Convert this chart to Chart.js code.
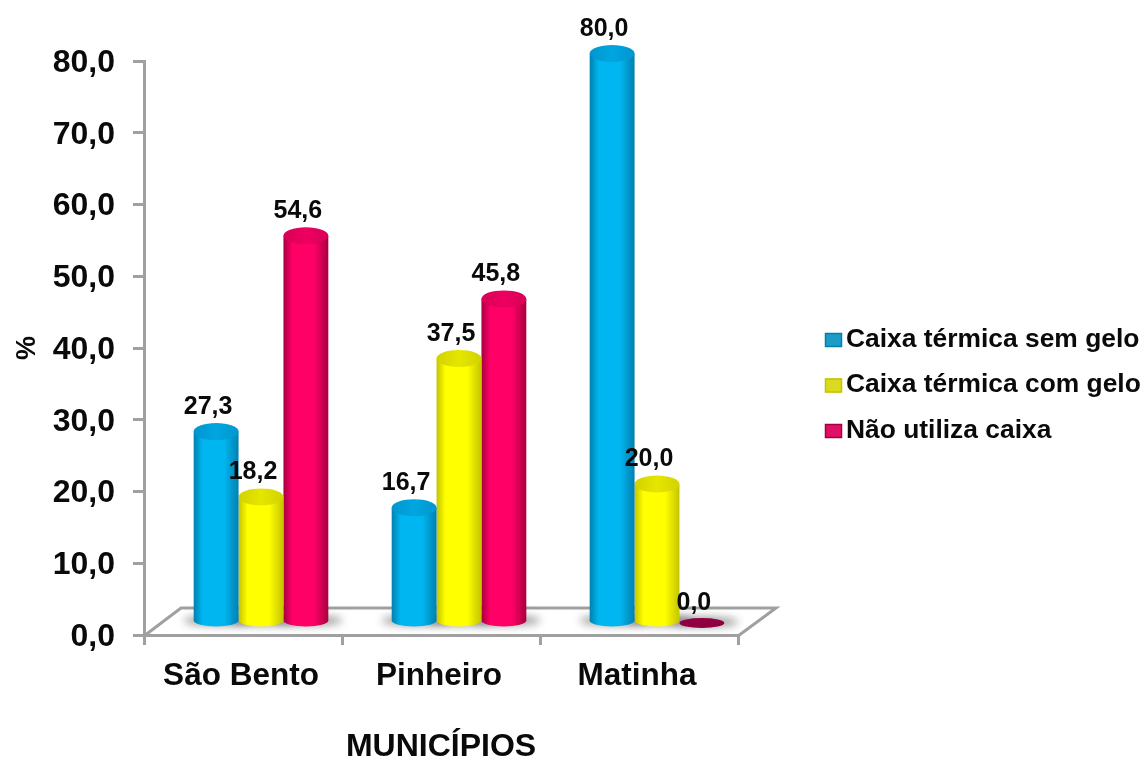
<!DOCTYPE html>
<html>
<head>
<meta charset="utf-8">
<title>Municípios</title>
<script src="https://cdn.jsdelivr.net/npm/chart.js@4"></script>
<style>
    html, body { margin: 0; padding: 0; background: #fff; }
    #caixa { position: relative; width: 1146px; height: 758px; }
    canvas { filter: blur(0.5px); }
</style>
</head>
<body>
<div id="caixa"><canvas id="chartMunicipios"></canvas></div>
<script>
const municipios = ['São Bento', 'Pinheiro', 'Matinha'];
const semGelo = [27.3, 16.7, 80.0];
const comGelo = [18.2, 37.5, 20.0];
const naoUtiliza = [54.6, 45.8, 0.0];
const nomesSeries = ['Caixa térmica sem gelo', 'Caixa térmica com gelo', 'Não utiliza caixa'];

const FONTE = '"Liberation Sans", Arial, sans-serif';
const COR_EIXO = '#a0a0a0';
const COR_TEXTO = '#0a0a0a';
const DESLOC_X = 18;   // profundidade do 3D

const cores = [
    { borda: '#0080b0', meio: '#00b6f0', topo: '#0096cf', topoClaro: '#00a6e0', legenda: '#1d9cc8' },
    { borda: '#c4c400', meio: '#ffff00', topo: '#d2d200', topoClaro: '#e6e600', legenda: '#dada20' },
    { borda: '#a8003f', meio: '#ff0066', topo: '#d80056', topoClaro: '#ee0060', legenda: '#e0106a' }
];

function virgula(v) {
    return v.toFixed(1).replace('.', ',');
}

// piso do grafico 3D e sombras das barras
const pisoPlugin = {
    id: 'piso',
    beforeDatasetsDraw(chart) {
        const { ctx, chartArea: a } = chart;
        ctx.save();
        ctx.strokeStyle = COR_EIXO;
        ctx.lineWidth = 3;
        ctx.beginPath();
        ctx.moveTo(a.left, a.bottom + 1);
        ctx.lineTo(a.left + 37, a.bottom - 27);
        ctx.lineTo(a.right + 38, a.bottom - 27);
        ctx.lineTo(a.right, a.bottom + 1);
        ctx.stroke();
        ctx.filter = 'blur(4px)';
        ctx.fillStyle = 'rgba(80,80,80,0.6)';
        chart.data.datasets.forEach((ds, i) => {
            chart.getDatasetMeta(i).data.forEach(el => {
                ctx.beginPath();
                ctx.ellipse(el.x + DESLOC_X + 2, el.base - 13, el.width / 2 + 12, 5, 0, 0, Math.PI * 2);
                ctx.fill();
            });
        });
        ctx.restore();
    }
};

// desenha cada barra como cilindro, a partir dos elementos do Chart.js
const cilindroPlugin = {
    id: 'cilindro',
    beforeDatasetDraw(chart, args) {
        const { ctx } = chart;
        const cor = cores[args.index];
        args.meta.data.forEach(el => {
            const cx = el.x + DESLOC_X;
            const rx = el.width / 2;
            const fundo = el.base - 13;
            ctx.save();
            if (Math.abs(el.base - el.y) < 1) {
                ctx.fillStyle = '#8e0040';
                ctx.beginPath();
                ctx.ellipse(cx, fundo + 1, rx, 5, 0, 0, Math.PI * 2);
                ctx.fill();
                ctx.restore();
                return;
            }
            const topo = el.y - 7.5;
            const g = ctx.createLinearGradient(cx - rx, 0, cx + rx, 0);
            g.addColorStop(0, cor.borda);
            g.addColorStop(0.2, cor.meio);
            g.addColorStop(0.68, cor.meio);
            g.addColorStop(1, cor.borda);
            ctx.fillStyle = g;
            ctx.beginPath();
            ctx.moveTo(cx - rx, topo);
            ctx.lineTo(cx - rx, fundo);
            ctx.ellipse(cx, fundo, rx, 6, 0, Math.PI, 0, true);
            ctx.lineTo(cx + rx, topo);
            ctx.closePath();
            ctx.fill();
            const gt = ctx.createLinearGradient(cx - rx, 0, cx + rx, 0);
            gt.addColorStop(0, cor.topo);
            gt.addColorStop(0.5, cor.topoClaro);
            gt.addColorStop(1, cor.topo);
            ctx.fillStyle = gt;
            ctx.beginPath();
            ctx.ellipse(cx, topo, rx, 8.5, 0, 0, Math.PI * 2);
            ctx.fill();
            ctx.restore();
        });
        return false;
    }
};

// rotulos de valor e legenda
const rotulosPlugin = {
    id: 'rotulos',
    afterDatasetsDraw(chart) {
        const { ctx } = chart;
        ctx.save();
        ctx.fillStyle = COR_TEXTO;
        ctx.font = 'bold 25px ' + FONTE;
        ctx.textAlign = 'center';
        ctx.textBaseline = 'middle';
        chart.data.datasets.forEach((ds, i) => {
            chart.getDatasetMeta(i).data.forEach((el, j) => {
                ctx.fillText(virgula(ds.data[j]), el.x + 10, el.y - 32);
            });
        });
        ctx.font = 'bold 26.4px ' + FONTE;
        ctx.textAlign = 'left';
        chart.data.datasets.forEach((ds, i) => {
            const y = 339.5 + i * 45.5;
            ctx.fillStyle = cores[i].legenda;
            ctx.fillRect(825, y - 6.5, 17, 14);
            ctx.strokeStyle = cores[i].borda;
            ctx.lineWidth = 1.5;
            ctx.strokeRect(825.5, y - 6, 16, 13);
            ctx.fillStyle = COR_TEXTO;
            ctx.fillText(ds.label, 846, y);
        });
        ctx.restore();
    }
};

new Chart(document.getElementById('chartMunicipios').getContext('2d'), {
    type: 'bar',
    data: {
        labels: municipios,
        datasets: [
            { label: nomesSeries[0], data: semGelo, backgroundColor: '#00b6f0' },
            { label: nomesSeries[1], data: comGelo, backgroundColor: '#ffff00' },
            { label: nomesSeries[2], data: naoUtiliza, backgroundColor: '#ff0066' }
        ]
    },
    options: {
        responsive: true,
        maintainAspectRatio: false,
        animation: false,
        layout: { padding: { top: 61, right: 408, left: 0, bottom: 0 } },
        plugins: { legend: { display: false }, tooltip: { enabled: false } },
        datasets: { bar: { categoryPercentage: 0.68, barPercentage: 1 } },
        scales: {
            x: {
                afterFit(scale) { scale.height = 123; },
                grid: { display: true, drawOnChartArea: false, color: COR_EIXO, lineWidth: 3, tickLength: 10 },
                border: { color: COR_EIXO, width: 3 },
                ticks: { color: COR_TEXTO, labelOffset: -2, font: { family: FONTE, size: 31.5, weight: 'bold' }, padding: 12 },
                title: { display: true, text: 'MUNICÍPIOS', color: COR_TEXTO, font: { family: FONTE, size: 32, weight: 'bold', lineHeight: 0.7 }, padding: { top: 0, bottom: 0 } }
            },
            y: {
                afterFit(scale) { scale.width = 144; },
                min: 0,
                max: 80,
                grid: { display: true, drawOnChartArea: false, color: COR_EIXO, lineWidth: 3, tickLength: 11 },
                border: { color: COR_EIXO, width: 3 },
                ticks: { stepSize: 10, color: COR_TEXTO, padding: 18, labelOffset: 2, font: { family: FONTE, size: 32, weight: 'bold' }, callback: v => virgula(v) },
                title: { display: true, text: '%', color: COR_TEXTO, font: { family: FONTE, size: 27, weight: 'bold' }, padding: { top: 11, bottom: 0 } }
            }
        }
    },
    plugins: [pisoPlugin, cilindroPlugin, rotulosPlugin]
});
</script>
</body>
</html>
